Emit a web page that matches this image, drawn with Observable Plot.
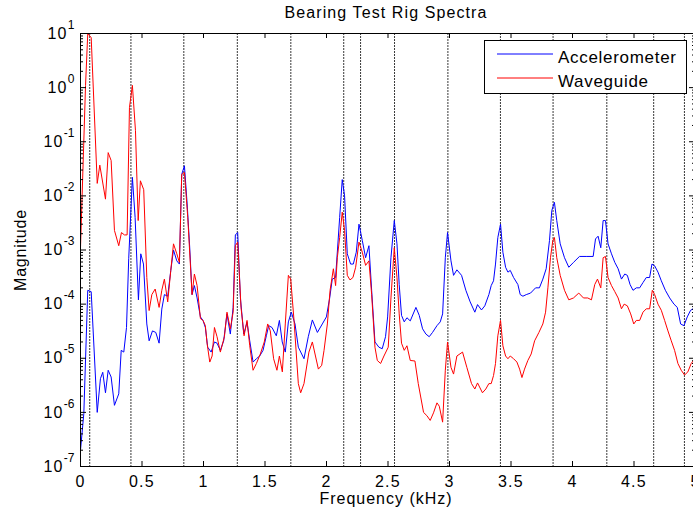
<!DOCTYPE html>
<html><head><meta charset="utf-8">
<script src="https://cdn.jsdelivr.net/npm/d3@7"></script>
<script src="https://cdn.jsdelivr.net/npm/@observablehq/plot@0.6"></script>
<style>
html,body{margin:0;padding:0;background:#fff;overflow:hidden;}
</style></head><body><div id="chart"></div>
<script>
// [frequency kHz, magnitude]
const accelerometer = [
[0.000,2.0e-7],[0.027,9.5e-7],[0.059,1.8e-4],[0.087,1.7e-4],[0.136,1.0e-6],[0.162,4.2e-6],[0.181,5.5e-6],
[0.203,2.3e-6],[0.225,6.0e-6],[0.249,4.5e-6],[0.276,1.35e-6],[0.311,2.2e-6],[0.331,1.4e-5],[0.352,1.3e-5],
[0.374,3.7e-5],[0.392,6.9e-4],[0.422,2.2e-2],[0.444,4.0e-3],[0.471,1.2e-4],[0.490,8.5e-4],[0.512,5.5e-4],
[0.539,4.3e-5],[0.558,2.1e-5],[0.585,3.2e-5],[0.612,3.0e-5],[0.639,1.9e-5],[0.661,8.1e-5],[0.682,1.5e-4],
[0.709,1.4e-4],[0.734,4.2e-4],[0.756,1.0e-3],[0.783,6.3e-4],[0.804,5.5e-4],[0.823,2.5e-2],[0.845,3.6e-2],
[0.867,7.1e-3],[0.888,1.1e-3],[0.907,1.5e-4],[0.926,2.2e-4],[0.948,1.3e-4],[0.975,5.8e-5],[0.996,5.0e-5],
[1.015,3.7e-5],[1.034,1.6e-5],[1.062,1.3e-5],[1.089,2.0e-5],[1.110,1.9e-5],[1.137,1.4e-5],[1.164,2.1e-5],
[1.191,6.6e-5],[1.218,2.8e-5],[1.241,8.7e-5],[1.259,1.9e-3],[1.278,2.1e-3],[1.300,1.3e-4],[1.327,2.8e-5],
[1.354,4.6e-5],[1.376,2.1e-5],[1.403,8.5e-6],[1.430,9.8e-6],[1.457,1.1e-5],[1.484,1.4e-5],[1.511,2.6e-5],
[1.530,4.0e-5],[1.557,3.7e-5],[1.592,2.6e-5],[1.617,5.0e-5],[1.640,2.0e-5],[1.665,1.3e-5],[1.690,4.7e-5],
[1.714,7.1e-5],[1.744,4.3e-5],[1.771,1.6e-5],[1.817,9.8e-6],[1.852,2.5e-5],[1.885,5.1e-5],[1.926,3.0e-5],
[1.966,4.3e-5],[1.999,5.8e-5],[2.026,1.3e-4],[2.047,2.9e-4],[2.074,3.1e-4],[2.107,4.0e-3],[2.128,2.0e-2],
[2.147,1.0e-2],[2.169,8.5e-4],[2.196,5.5e-4],[2.218,5.5e-4],[2.242,9.1e-4],[2.264,3.0e-3],[2.291,1.5e-3],
[2.318,7.2e-4],[2.345,1.2e-3],[2.367,1.8e-4],[2.394,2.0e-5],[2.426,1.6e-5],[2.453,1.5e-5],[2.480,2.5e-5],
[2.497,5.8e-5],[2.524,7.2e-4],[2.551,3.5e-3],[2.573,1.3e-3],[2.591,2.3e-4],[2.610,6.2e-5],[2.632,4.7e-5],
[2.654,5.6e-5],[2.681,4.9e-5],[2.727,8.7e-5],[2.754,6.2e-5],[2.781,3.5e-5],[2.808,2.8e-5],[2.835,2.5e-5],
[2.862,3.0e-5],[2.898,4.0e-5],[2.925,4.7e-5],[2.944,6.6e-5],[2.966,7.2e-4],[2.984,2.1e-3],[3.012,6.3e-4],
[3.033,3.4e-4],[3.060,4.3e-4],[3.098,3.4e-4],[3.133,1.8e-4],[3.168,1.1e-4],[3.206,7.1e-5],[3.228,9.8e-5],
[3.260,7.8e-5],[3.287,9.3e-5],[3.320,1.5e-4],[3.339,2.2e-4],[3.358,2.7e-4],[3.374,5.5e-4],[3.393,1.7e-3],
[3.415,3.0e-3],[3.434,9.1e-4],[3.456,4.8e-4],[3.475,3.9e-4],[3.494,4.2e-4],[3.521,3.1e-4],[3.556,2.3e-4],
[3.575,1.5e-4],[3.597,1.4e-4],[3.624,1.5e-4],[3.659,1.6e-4],[3.700,2.0e-4],[3.731,2.0e-4],[3.759,2.9e-4],
[3.786,4.5e-4],[3.813,1.5e-3],[3.832,5.4e-3],[3.853,7.6e-3],[3.872,3.5e-3],[3.900,1.3e-3],[3.935,7.2e-4],
[3.970,4.8e-4],[4.008,5.9e-4],[4.057,7.6e-4],[4.111,7.6e-4],[4.168,7.6e-4],[4.187,1.6e-3],[4.208,1.8e-3],
[4.230,1.1e-3],[4.249,3.5e-3],[4.268,3.5e-3],[4.289,1.3e-3],[4.317,8.5e-4],[4.344,5.9e-4],[4.371,4.5e-4],
[4.398,2.9e-4],[4.425,3.6e-4],[4.446,3.4e-4],[4.468,2.3e-4],[4.492,1.8e-4],[4.519,2.0e-4],[4.546,2.0e-4],
[4.573,2.5e-4],[4.600,3.1e-4],[4.627,3.1e-4],[4.646,5.5e-4],[4.668,5.1e-4],[4.695,3.9e-4],[4.722,2.7e-4],
[4.755,1.8e-4],[4.790,1.3e-4],[4.825,1.0e-4],[4.852,8.7e-5],[4.879,4.3e-5],[4.906,4.0e-5],[4.933,5.8e-5],
[4.960,7.7e-5],[4.990,8.4e-5]
];
const waveguide = [
[0.000,1.1e-3],[0.041,1.1],[0.059,10],[0.087,8.4],[0.136,1.7e-2],[0.157,3.7e-2],[0.203,8.7e-3],
[0.225,6.3e-2],[0.249,4.5e-2],[0.276,2.3e-3],[0.311,1.2e-3],[0.333,2.1e-3],[0.357,1.9e-3],[0.379,1.9e-3],
[0.398,0.43],[0.422,1.1],[0.447,0.16],[0.469,3.5e-3],[0.487,1.9e-2],[0.514,1.3e-2],[0.539,3.1e-4],
[0.558,7.6e-5],[0.580,1.5e-4],[0.607,1.9e-4],[0.639,8.7e-5],[0.661,1.8e-4],[0.682,2.9e-4],[0.709,1.1e-4],
[0.734,4.2e-4],[0.756,1.3e-3],[0.783,8.5e-4],[0.804,5.9e-4],[0.823,2.5e-2],[0.845,2.7e-2],[0.872,4.0e-3],
[0.907,1.5e-4],[0.926,3.6e-4],[0.948,2.2e-4],[0.975,5.4e-5],[0.996,5.0e-5],[1.015,4.0e-5],[1.029,1.9e-5],
[1.051,8.5e-6],[1.070,1.1e-5],[1.089,3.7e-5],[1.110,2.5e-5],[1.137,1.3e-5],[1.170,2.5e-5],[1.191,7.1e-5],
[1.218,3.5e-5],[1.241,7.1e-5],[1.259,1.2e-3],[1.278,1.4e-3],[1.305,8.7e-5],[1.330,2.6e-5],[1.354,5.0e-5],
[1.376,1.7e-5],[1.403,6.0e-6],[1.430,8.0e-6],[1.462,1.2e-5],[1.494,2.0e-5],[1.522,4.3e-5],[1.543,3.2e-5],
[1.570,9.8e-6],[1.597,6.0e-6],[1.617,1.1e-5],[1.641,5.6e-6],[1.665,4.3e-5],[1.690,3.4e-4],[1.709,2.9e-4],
[1.736,5.0e-5],[1.771,3.4e-6],[1.790,2.3e-6],[1.817,3.4e-6],[1.857,1.3e-5],[1.885,2.0e-5],[1.934,6.3e-6],
[1.961,7.4e-6],[1.980,1.4e-5],[2.007,4.3e-5],[2.029,1.8e-4],[2.056,4.5e-4],[2.074,2.2e-4],[2.088,7.2e-4],
[2.107,1.7e-3],[2.128,5.0e-3],[2.147,2.3e-3],[2.169,3.4e-4],[2.191,2.8e-4],[2.215,3.1e-4],[2.237,4.8e-4],
[2.264,1.4e-3],[2.291,9.1e-4],[2.318,5.2e-4],[2.345,6.3e-4],[2.367,1.5e-4],[2.394,1.6e-5],[2.413,9.1e-6],
[2.440,8.0e-6],[2.467,1.1e-5],[2.502,1.6e-5],[2.524,1.3e-4],[2.551,1.1e-3],[2.573,3.1e-4],[2.591,6.6e-5],
[2.610,1.9e-5],[2.632,1.4e-5],[2.654,1.7e-5],[2.681,9.1e-6],[2.719,8.9e-6],[2.746,3.4e-6],[2.789,1.0e-6],
[2.816,8.7e-7],[2.843,7.1e-7],[2.870,9.8e-7],[2.898,1.5e-6],[2.917,1.3e-6],[2.944,6.6e-7],[2.966,6.0e-6],
[2.984,2.0e-5],[3.012,6.8e-6],[3.033,5.1e-6],[3.060,1.1e-5],[3.106,1.3e-5],[3.141,6.8e-6],[3.179,3.4e-6],
[3.206,2.7e-6],[3.228,3.5e-6],[3.268,2.3e-6],[3.295,2.7e-6],[3.320,3.4e-6],[3.339,3.4e-6],[3.358,4.8e-6],
[3.374,8.0e-6],[3.393,2.6e-5],[3.415,5.0e-5],[3.434,1.7e-5],[3.456,1.1e-5],[3.475,9.8e-6],[3.494,1.1e-5],
[3.521,9.8e-6],[3.548,8.5e-6],[3.570,6.3e-6],[3.589,4.4e-6],[3.610,6.3e-6],[3.637,9.1e-6],[3.664,1.2e-5],
[3.692,2.1e-5],[3.727,3.0e-5],[3.759,4.3e-5],[3.781,7.1e-5],[3.800,2.0e-4],[3.821,7.2e-4],[3.840,1.5e-3],
[3.853,1.7e-3],[3.872,7.2e-4],[3.900,3.4e-4],[3.935,1.8e-4],[3.970,1.2e-4],[4.008,1.3e-4],[4.051,1.6e-4],
[4.089,1.3e-4],[4.124,1.3e-4],[4.154,1.2e-4],[4.181,2.3e-4],[4.203,2.9e-4],[4.230,2.0e-4],[4.249,7.2e-4],
[4.268,7.6e-4],[4.289,3.1e-4],[4.317,2.2e-4],[4.344,1.7e-4],[4.371,1.3e-4],[4.398,8.2e-5],[4.420,1.0e-4],
[4.446,9.3e-5],[4.473,6.6e-5],[4.498,4.3e-5],[4.519,5.0e-5],[4.546,5.0e-5],[4.573,7.1e-5],[4.600,8.2e-5],
[4.627,8.2e-5],[4.649,1.8e-4],[4.668,1.5e-4],[4.695,1.0e-4],[4.722,7.7e-5],[4.749,5.0e-5],[4.776,3.2e-5],
[4.803,2.1e-5],[4.830,1.4e-5],[4.857,8.0e-6],[4.884,6.0e-6],[4.911,4.9e-6],[4.938,5.6e-6],[4.965,8.0e-6],
[4.990,9.5e-6]
];
const harmonicFreq = [0.075, 0.41, 0.84, 1.275, 1.71, 2.14, 2.277, 2.553, 2.987, 3.414, 3.842, 4.279, 4.66, 4.91];
const xTicks = [0, 0.5, 1, 1.5, 2, 2.5, 3, 3.5, 4, 4.5, 5];
const xTickLabels = ["0", "0.5", "1", "1.5", "2", "2.5", "3", "3.5", "4", "4.5", "5"];
const yMajorTicks = [1e-7, 1e-6, 1e-5, 1e-4, 1e-3, 1e-2, 1e-1, 1e0, 1e1];
const yTickExponents = ["-7", "-6", "-5", "-4", "-3", "-2", "-1", "0", "1"];
const seriesNames = ["Accelerometer", "Waveguide"];
const seriesColors = ["#0000ff", "#ff0000"];
const titleText = "Bearing Test Rig Spectra";
const xLabel = "Frequency (kHz)";
const yLabel = "Magnitude";

const W = 693, H = 514, mL = 80, mR = -2, mT = 33, mB = 48;
const plotW = W - mL - mR, plotH = H - mT - mB;

const yMinorTicks = [];
for (let e = -7; e < 1; e++) for (let k = 2; k <= 9; k++) yMinorTicks.push(k * Math.pow(10, e));

const toRows = (arr, name) => arr.map(([f, m]) => ({f, m, name}));
const accelRows = toRows(accelerometer, seriesNames[0]);
const waveRows = toRows(waveguide, seriesNames[1]);

const font = "'Liberation Sans', Arial, Helvetica, sans-serif";

const plot = Plot.plot({
  width: W, height: H,
  marginLeft: mL, marginRight: mR, marginTop: mT, marginBottom: mB,
  style: {fontFamily: font, fontSize: "16px", background: "white", color: "black", overflow: "visible"},
  x: {domain: [0, 5]},
  y: {type: "log", domain: [1e-7, 10]},
  marks: [
    Plot.ruleX(harmonicFreq, {x: d => d, stroke: "#3a3a3a", strokeWidth: 1, strokeDasharray: "2,1"}),
    Plot.line(accelRows, {x: "f", y: "m", stroke: seriesColors[0], strokeWidth: 1}),
    Plot.line(waveRows, {x: "f", y: "m", stroke: seriesColors[1], strokeWidth: 1}),
    Plot.ruleX(xTicks, {x: d => d, insetTop: plotH - 5, stroke: "black"}),
    Plot.ruleX(xTicks, {x: d => d, insetBottom: plotH - 5, stroke: "black"}),
    Plot.ruleY(yMajorTicks, {y: d => d, insetRight: plotW - 6, stroke: "black"}),
    Plot.ruleY(yMajorTicks, {y: d => d, insetLeft: plotW - 6, stroke: "black"}),
    Plot.ruleY(yMinorTicks, {y: d => d, insetRight: plotW - 3, stroke: "black"}),
    Plot.ruleY(yMinorTicks, {y: d => d, insetLeft: plotW - 3, stroke: "black"}),
    Plot.axisX({ticks: xTicks, tickFormat: d => xTickLabels[xTicks.indexOf(d)], tickSize: 0, tickPadding: 9, label: null}),
    Plot.axisY({ticks: yMajorTicks, tickFormat: d => "10^" + yTickExponents[yMajorTicks.indexOf(d)], tickSize: 0, tickPadding: 6, label: null}),
    Plot.frame({stroke: "black"})
  ]
});

const svg = d3.select(plot);
svg.selectAll('g[aria-label="x-axis tick label"] text').style("letter-spacing", "1.3px");
svg.selectAll('g[aria-label="y-axis tick label"] text').each(function () {
  const parts = this.textContent.split("^");
  const t = d3.select(this);
  t.text(null);
  t.append("tspan").style("letter-spacing", "1.3px").text(parts[0]);
  t.append("tspan").attr("dy", "-10").attr("font-size", "12px").text(parts[1]);
});

svg.append("text").attr("x", 386).attr("y", 18).attr("text-anchor", "middle")
  .attr("font-family", font).attr("font-size", 16).style("letter-spacing", "1.1px").attr("fill", "black").text(titleText);
svg.append("text").attr("x", 386).attr("y", 504).attr("text-anchor", "middle")
  .attr("font-family", font).attr("font-size", 16).style("letter-spacing", "1px").attr("fill", "black").text(xLabel);
svg.append("text").attr("transform", "translate(26,250) rotate(-90)").attr("text-anchor", "middle")
  .attr("font-family", font).attr("font-size", 16).style("letter-spacing", "0.8px").attr("fill", "black").text(yLabel);

const lg = svg.append("g");
lg.append("rect").attr("x", 484.5).attr("y", 40.5).attr("width", 202).attr("height", 53)
  .attr("fill", "white").attr("stroke", "black").attr("stroke-width", 1);
[0, 1].forEach(i => {
  const y = 54 + i * 24;
  lg.append("line").attr("x1", 497).attr("x2", 553).attr("y1", y).attr("y2", y)
    .attr("stroke", seriesColors[i]).attr("stroke-width", 1);
  lg.append("text").attr("x", 558).attr("y", y + 8.5).attr("text-anchor", "start")
    .attr("font-family", font).attr("font-size", 17)
    .style("letter-spacing", "0.7px").attr("fill", "black").text(seriesNames[i]);
});

document.getElementById("chart").appendChild(plot);
</script></body></html>
